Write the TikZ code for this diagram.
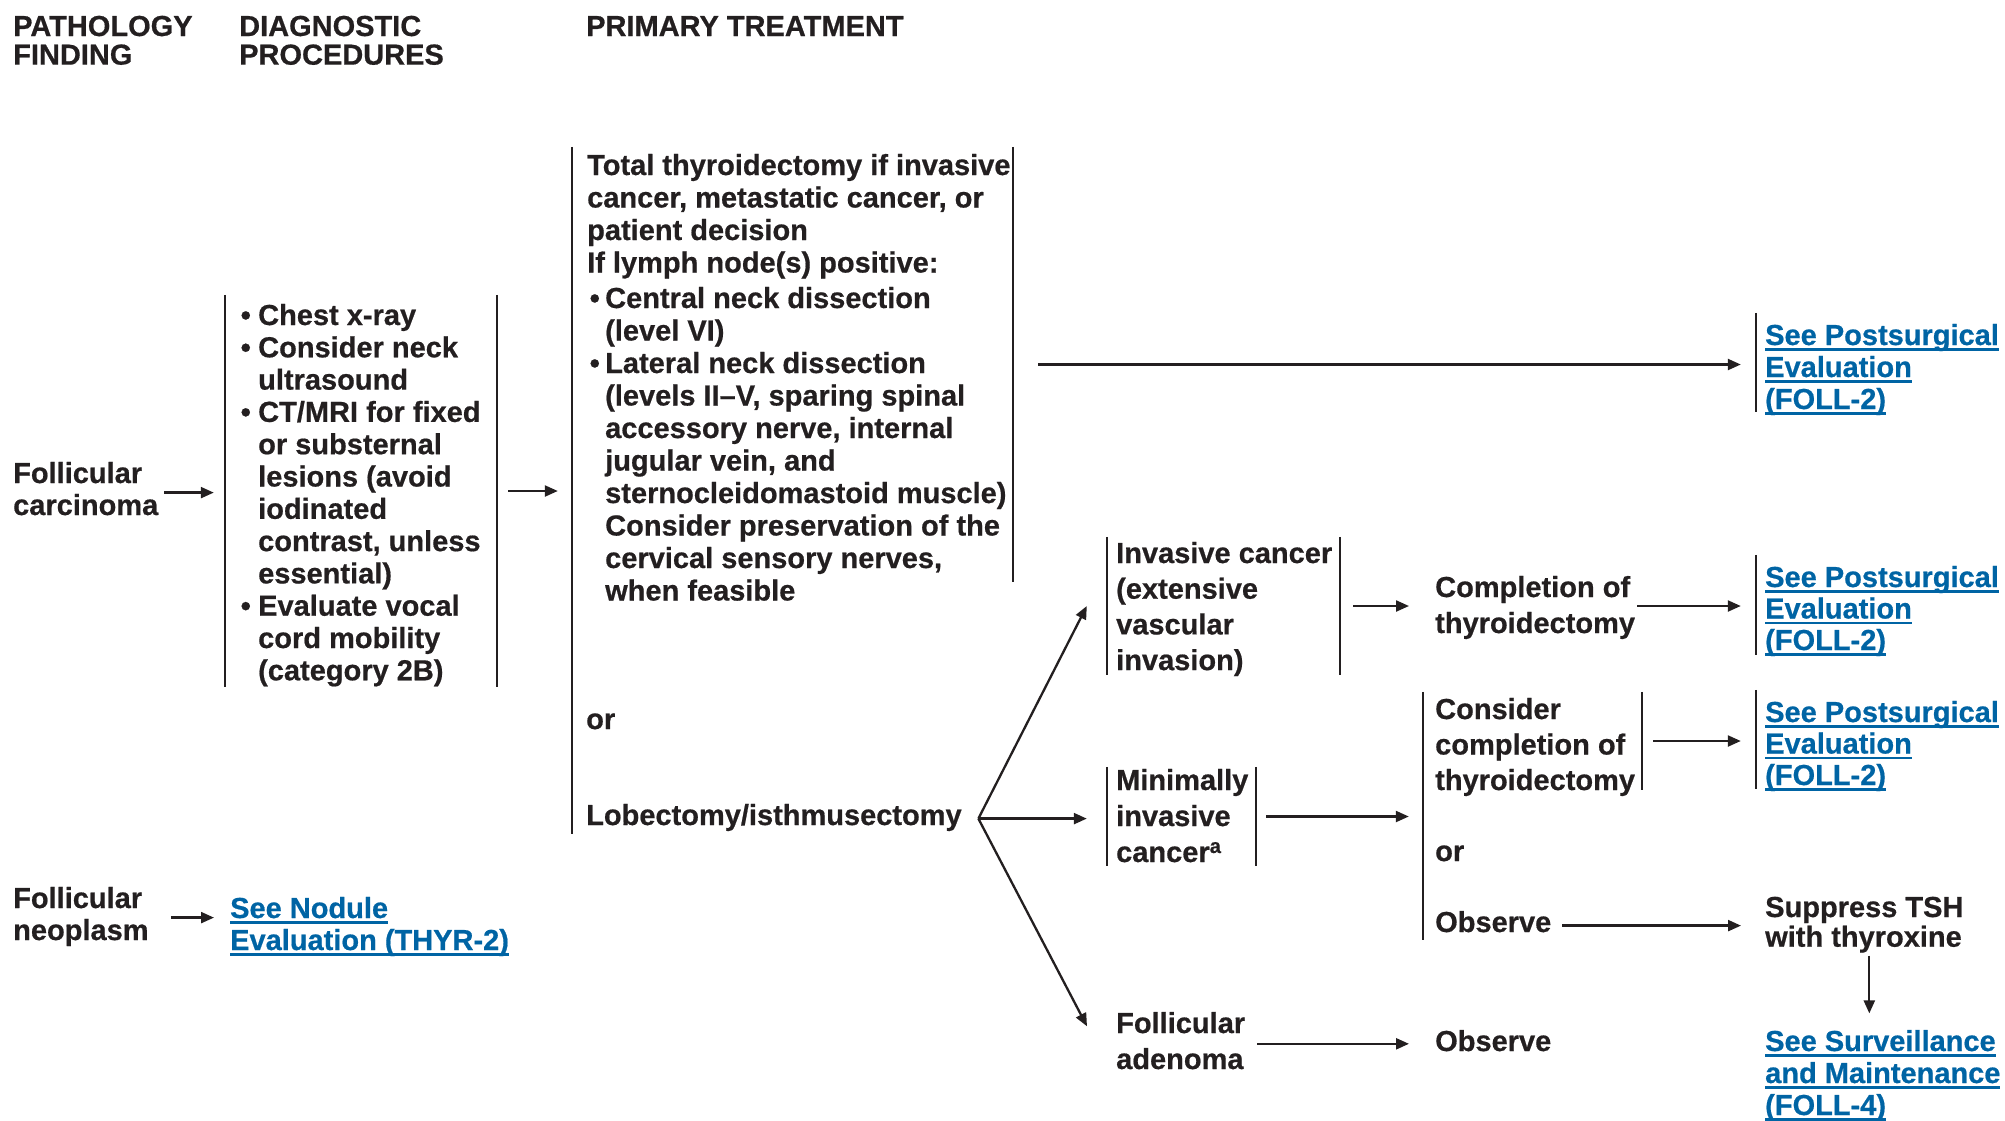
\documentclass[tikz,border=0pt]{standalone}
\usepackage{fontspec}
\setmainfont{Liberation Sans}[BoldFeatures={FakeBold=0.6}]
\usetikzlibrary{arrows.meta}
\definecolor{ink}{HTML}{231F20}
\definecolor{linkblue}{HTML}{0064A4}
% text block: given baselineskip, lines separated by \\
\newcommand\tb[2]{{\fontsize{29}{#1}\selectfont\begin{tabular}[t]{@{}l@{}}#2\end{tabular}}}
% underlined link text
\newcommand\lk[1]{{\color{linkblue}\setbox0\hbox{#1}\rlap{\rule[-5.5pt]{\wd0}{2.2pt}}\box0}}
\newlength\bw
\newcommand\bu{\makebox[\bw][l]{\hspace{2.5pt}•}}
\newcommand\ct{\hspace*{\bw}}
\begin{document}
\begin{tikzpicture}[x=1pt,y=-1pt,
  txt/.style={inner sep=0pt, anchor=base west, text=ink, font=\bfseries},
  box/.style={inner sep=0pt, draw=none},
  bar/.style={draw=ink, line width=2pt},
  arr/.style={draw=ink, line width=2.3pt, line join=round, -{Triangle[length=13pt,width=11pt]}}]
\useasboundingbox (0,0) rectangle (2005,1120);

% column headers
\node[txt] (h1) at (13,36) {\tb{28}{PATHOLOGY\\FINDING}};
\node[txt] (h2) at (239,36) {\tb{28}{DIAGNOSTIC\\PROCEDURES}};
\node[txt] (h3) at (586,36) {\tb{28}{PRIMARY TREATMENT}};

% bracket frames
\node[box, minimum width=272pt, minimum height=392pt] (diagbox) at (361,491) {};
\node[box, minimum width=441pt, minimum height=435pt] (primbox) at (792.5,364.5) {};
\node[box, minimum width=233pt, minimum height=138pt] (invbox) at (1223.5,606) {};
\node[box, minimum width=149pt, minimum height=99pt] (minbox) at (1181.5,816.5) {};
\node[box, minimum width=219pt, minimum height=98pt] (consbox) at (1532.5,741) {};
\node[box, minimum width=0pt, minimum height=99pt] (l1box) at (1756,362.5) {};
\node[box, minimum width=0pt, minimum height=100pt] (l2box) at (1756,605) {};
\node[box, minimum width=0pt, minimum height=99pt] (l3box) at (1756,739.5) {};

\foreach \b in {diagbox,primbox,invbox,minbox,consbox}
  \draw[bar] (\b.north west) -- (\b.south west) (\b.north east) -- (\b.south east);
\foreach \b in {l1box,l2box,l3box}
  \draw[bar] (\b.north west) -- (\b.south west);
\draw[bar] (primbox.south west) -- ++(0,252);
\draw[bar] (consbox.south west) -- ++(0,150);

% pathology findings
\node[txt] (fc) at (13,483) {\tb{32}{Follicular\\carcinoma}};
\node[txt] (fn) at (13,908) {\tb{32}{Follicular\\neoplasm}};

% diagnostic procedures
\node[txt] (diag) at (238,325) {\setlength\bw{20pt}\tb{32.3}{%
\bu Chest x-ray\\
\bu Consider neck\\
\ct ultrasound\\
\bu CT/MRI for fixed\\
\ct or substernal\\
\ct lesions (avoid\\
\ct iodinated\\
\ct contrast, unless\\
\ct essential)\\
\bu Evaluate vocal\\
\ct cord mobility\\
\ct (category 2B)}};
\node[txt] (nod) at (230,918) {\tb{32}{\lk{See Nodule}\\\lk{Evaluation (THYR-2)}}};

% primary treatment
\node[txt] (prim) at (587,175) {\setlength\bw{18pt}\tb{32.5}{%
Total thyroidectomy if invasive\\
cancer, metastatic cancer, or\\
patient decision\\
If lymph node(s) positive:\\[3pt]
\bu Central neck dissection\\
\ct (level VI)\\
\bu Lateral neck dissection\\
\ct (levels II–V, sparing spinal\\
\ct accessory nerve, internal\\
\ct jugular vein, and\\
\ct sternocleidomastoid muscle)\\
\ct Consider preservation of the\\
\ct cervical sensory nerves,\\
\ct when feasible}};
\node[txt] (or1) at (586,729) {\tb{32}{or}};
\node[txt] (lob) at (586,825) {\tb{32}{Lobectomy/isthmusectomy}};

% lobectomy outcomes
\node[txt] (inv) at (1116,563) {\tb{35.7}{Invasive cancer\\(extensive\\vascular\\invasion)}};
\node[txt] (min) at (1116,790) {\tb{36}{Minimally\\invasive\\cancer\textsuperscript{a}}};
\node[txt] (aden) at (1116,1033) {\tb{36}{Follicular\\adenoma}};

\node[txt] (cmpl) at (1435,597) {\tb{36}{Completion of\\thyroidectomy}};
\node[txt] (cons) at (1435,719) {\tb{35.5}{Consider\\completion of\\thyroidectomy}};
\node[txt] (or2) at (1435,861) {\tb{32}{or}};
\node[txt] (obs1) at (1435,932) {\tb{32}{Observe}};
\node[txt] (obs2) at (1435,1051) {\tb{32}{Observe}};

% follow-up
\node[txt] (l1) at (1765,345) {\tb{32}{\lk{See Postsurgical}\\\lk{Evaluation}\\\lk{(FOLL-2)}}};
\node[txt] (l2) at (1765,587) {\tb{31.5}{\lk{See Postsurgical}\\\lk{Evaluation}\\\lk{(FOLL-2)}}};
\node[txt] (l3) at (1765,722) {\tb{31.5}{\lk{See Postsurgical}\\\lk{Evaluation}\\\lk{(FOLL-2)}}};
\node[txt] (supp) at (1765,917) {\tb{29}{Suppress TSH\\with thyroxine}};
\node[txt] (surv) at (1765,1051) {\tb{32}{\lk{See Surveillance}\\\lk{and Maintenance}\\\lk{(FOLL-4)}}};

% connectors
\draw[arr, shorten <=6pt, shorten >=11pt] (fc.east) -- (fc.east -| diagbox.west);
\draw[arr, shorten <=11pt, shorten >=14pt] (diagbox.east) -- (diagbox.east -| primbox.west);
\draw[arr, shorten <=22pt, shorten >=16pt] (fn.east) -- (fn.east -| nod.west);
\draw[arr, shorten <=25pt, shorten >=15pt] (primbox.east) -- (primbox.east -| l1box.west);

\coordinate (split) at ([xshift=16.5pt]lob.east);
\draw[arr] (split) -- ([xshift=-20pt]invbox.west);
\draw[arr, shorten >=20pt] (split) -- (split -| minbox.west);
\draw[arr] (split) -- ([xshift=-29pt,yshift=17.5pt]aden.west);

\draw[arr, shorten <=13pt, shorten >=26pt] (invbox.east) -- (invbox.east -| cmpl.west);
\draw[arr, shorten <=2pt, shorten >=15pt] (cmpl.east |- invbox.east) -- (invbox.east -| l2box.west);
\draw[arr, shorten <=10pt, shorten >=14pt] (minbox.east) -- (minbox.east -| consbox.west);
\draw[arr, shorten <=11pt, shorten >=15pt] (consbox.east) -- (consbox.east -| l3box.west);
\draw[arr, shorten <=11pt, shorten >=24pt] (obs1.east) -- (obs1.east -| supp.west);
\draw[arr, shorten >=15pt] ([xshift=5pt]supp.south) -- ([xshift=5pt]supp.south |- surv.north);
\draw[arr, shorten <=12pt, shorten >=26pt] (aden.east) -- (aden.east -| obs2.west);
\end{tikzpicture}
\end{document}
